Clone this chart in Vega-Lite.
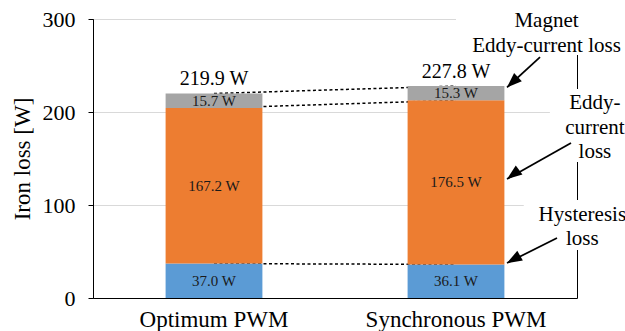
{
  "$schema": "https://vega.github.io/schema/vega-lite/v6.json",
  "width": 484,
  "height": 279,
  "autosize": {"type": "none"},
  "padding": {"left": 93, "top": 19, "right": 48, "bottom": 33},
  "background": "white",
  "config": {
    "font": "Liberation Serif",
    "text": {"font": "Liberation Serif"},
    "view": {"stroke": "#000", "strokeWidth": 1},
    "axis": {
      "labelFont": "Liberation Serif",
      "titleFont": "Liberation Serif",
      "labelColor": "#000",
      "titleColor": "#000",
      "domainColor": "#000",
      "tickColor": "#000",
      "labelFontSize": 22,
      "titleFontSize": 23,
      "titleFontWeight": "normal",
      "labelLimit": 0
    }
  },
  "datasets": {
    "losses": [
      {"pwm": "Optimum PWM", "component": "Hysteresis loss", "value": 37.0},
      {"pwm": "Optimum PWM", "component": "Eddy-current loss", "value": 167.2},
      {"pwm": "Optimum PWM", "component": "Magnet eddy-current loss", "value": 15.7},
      {"pwm": "Synchronous PWM", "component": "Hysteresis loss", "value": 36.1},
      {"pwm": "Synchronous PWM", "component": "Eddy-current loss", "value": 176.5},
      {"pwm": "Synchronous PWM", "component": "Magnet eddy-current loss", "value": 15.3}
    ],
    "totals": [
      {"pwm": "Optimum PWM", "total": 219.9, "label": "219.9 W"},
      {"pwm": "Synchronous PWM", "total": 227.8, "label": "227.8 W"}
    ],
    "boxes": [
      {"x0": 0.75, "x1": 1.2, "y0": 261.3, "y1": 330},
      {"x0": 0.944, "x1": 1.2, "y0": 146.2, "y1": 224.7},
      {"x0": 0.89, "x1": 1.2, "y0": 51.6, "y1": 105.4}
    ],
    "arrows": [
      {"name": "magnet", "fx": 0.9236, "fy": 259.1, "tx": 0.8554, "ty": 226.5},
      {"name": "eddy", "fx": 0.9876, "fy": 166.7, "tx": 0.8554, "ty": 128.0},
      {"name": "hyst", "fx": 0.9587, "fy": 64.5, "tx": 0.8554, "ty": 37.6}
    ],
    "notes": [
      {"t": "Magnet", "x": 0.937, "y": 291.4},
      {"t": "Eddy-current loss", "x": 0.937, "y": 264.5},
      {"t": "Eddy-", "x": 1.037, "y": 203.2},
      {"t": "current", "x": 1.037, "y": 176.3},
      {"t": "loss", "x": 1.037, "y": 150.5},
      {"t": "Hysteresis", "x": 1.011, "y": 82.8},
      {"t": "loss", "x": 1.011, "y": 57.0}
    ]
  },
  "resolve": {"scale": {"x": "independent"}},
  "layer": [
    {
      "data": {"name": "boxes"},
      "mark": {"type": "rect", "fill": "white", "stroke": null},
      "encoding": {
        "x": {"field": "x0", "type": "quantitative", "scale": {"domain": [0, 1], "nice": false}, "axis": null},
        "x2": {"field": "x1"},
        "y": {"field": "y0", "type": "quantitative", "title": "Iron loss [W]", "scale": {"domain": [0, 300], "nice": false}},
        "y2": {"field": "y1"}
      }
    },
    {
      "data": {"name": "losses"},
      "transform": [
        {"calculate": "indexof(['Hysteresis loss','Eddy-current loss','Magnet eddy-current loss'], datum.component)", "as": "rank"},
        {"stack": "value", "groupby": ["pwm"], "sort": [{"field": "rank", "order": "ascending"}], "as": ["y0", "y1"]},
        {"calculate": "(datum.y0 + datum.y1) / 2", "as": "mid"},
        {"calculate": "format(datum.value, '.1f') + ' W'", "as": "label"}
      ],
      "encoding": {
        "x": {
          "field": "pwm",
          "type": "nominal",
          "sort": ["Optimum PWM", "Synchronous PWM"],
          "scale": {"paddingInner": 0.6, "paddingOuter": 0.3},
          "axis": {"title": null, "ticks": false, "tickSize": 0, "labelAngle": 0, "labelPadding": 10, "grid": false, "labelLimit": 0, "labelFont": "Liberation Serif", "labelFontSize": 23, "labelColor": "#000"}
        }
      },
      "layer": [
        {
          "mark": {"type": "line", "color": "#000", "strokeWidth": 1.5, "strokeDash": [3, 2.5]},
          "encoding": {
            "y": {"field": "y1", "type": "quantitative", "title": "Iron loss [W]", "scale": {"domain": [0, 300], "nice": false},
              "axis": {"values": [0, 100, 200, 300], "grid": true, "gridColor": "#d9d9d9", "tickSize": 5, "labelPadding": 13, "titlePadding": 8,
                "labelFont": "Liberation Serif", "titleFont": "Liberation Serif", "labelFontSize": 22, "titleFontSize": 23, "titleFontWeight": "normal"}},
            "detail": {"field": "component"}
          }
        },
        {
          "mark": {"type": "bar"},
          "encoding": {
            "y": {"field": "y1", "type": "quantitative", "title": "Iron loss [W]"},
            "y2": {"field": "y0"},
            "color": {
              "field": "component",
              "type": "nominal",
              "scale": {"domain": ["Hysteresis loss", "Eddy-current loss", "Magnet eddy-current loss"], "range": ["#5B9BD5", "#ED7D31", "#A5A5A5"]},
              "legend": null
            }
          }
        },
        {
          "mark": {"type": "text", "font": "Liberation Serif", "fontSize": 15, "color": "#1a1a1a", "baseline": "middle", "align": "center"},
          "encoding": {
            "y": {"field": "mid", "type": "quantitative", "title": "Iron loss [W]"},
            "text": {"field": "label"}
          }
        },
        {
          "data": {"name": "totals"},
          "mark": {"type": "text", "font": "Liberation Serif", "fontSize": 20, "color": "#000", "baseline": "alphabetic", "align": "center", "dy": -8.5},
          "encoding": {
            "y": {"field": "total", "type": "quantitative", "title": "Iron loss [W]"},
            "text": {"field": "label"}
          }
        }
      ]
    },
    {
      "layer": [
        {
          "data": {"name": "arrows"},
          "mark": {"type": "rule", "color": "#000", "strokeWidth": 1.75},
          "encoding": {
            "x": {"field": "fx", "type": "quantitative", "scale": {"domain": [0, 1], "nice": false}, "axis": null},
            "x2": {"field": "tx"},
            "y": {"field": "fy", "type": "quantitative", "title": "Iron loss [W]"},
            "y2": {"field": "ty"}
          }
        },
        {
          "data": {"name": "arrows"},
          "mark": {"type": "point", "shape": "M0,0L-2,-0.75L-2,0.75Z", "filled": true, "fill": "#000", "stroke": null, "opacity": 1, "size": 225},
          "encoding": {
            "x": {"field": "tx", "type": "quantitative", "axis": null},
            "y": {"field": "ty", "type": "quantitative", "title": "Iron loss [W]"},
            "angle": {"field": "name", "type": "nominal", "scale": {"domain": ["magnet", "eddy", "hyst"], "range": [136.8, 150.6, 153.4]}, "legend": null}
          }
        },
        {
          "data": {"name": "notes"},
          "mark": {"type": "text", "font": "Liberation Serif", "fontSize": 21, "color": "#000", "align": "center", "baseline": "alphabetic"},
          "encoding": {
            "x": {"field": "x", "type": "quantitative", "axis": null},
            "y": {"field": "y", "type": "quantitative", "title": "Iron loss [W]"},
            "text": {"field": "t"}
          }
        }
      ]
    }
  ]
}
